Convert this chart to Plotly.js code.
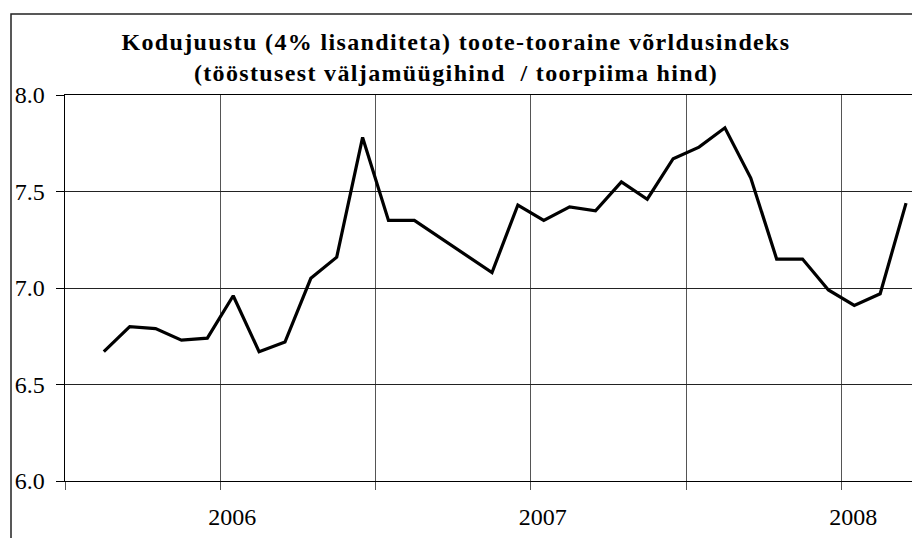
<!DOCTYPE html>
<html>
<head>
<meta charset="utf-8">
<script src="https://cdn.plot.ly/plotly-3.0.1.min.js"></script>
<style>
  html, body { margin: 0; padding: 0; background: #fff; }
  #chart { width: 912px; height: 538px; }
  .gtitle { letter-spacing: 1.35px; }
</style>
</head>
<body>
<div id="chart"></div>
<script>
// Monthly categories (first category is empty in the original chart)
const categories = [
  '2005-07','2005-08','2005-09','2005-10','2005-11','2005-12',
  '2006-01','2006-02','2006-03','2006-04','2006-05','2006-06',
  '2006-07','2006-08','2006-09','2006-10','2006-11','2006-12',
  '2007-01','2007-02','2007-03','2007-04','2007-05','2007-06',
  '2007-07','2007-08','2007-09','2007-10','2007-11','2007-12',
  '2008-01','2008-02','2008-03'
];
// Index values
const values = [
  null, 6.67, 6.80, 6.79, 6.73, 6.74,
  6.96, 6.67, 6.72, 7.05, 7.16, 7.78,
  7.35, 7.35, 7.26, 7.17, 7.08, 7.43,
  7.35, 7.42, 7.40, 7.55, 7.46, 7.67,
  7.73, 7.83, 7.57, 7.15, 7.15, 6.99,
  6.91, 6.97, 7.44
];
// Half-year boundaries (ticks/gridlines) and their year labels
const tickCategories = ['2005-07','2006-01','2006-07','2007-01','2007-07','2008-01'];
const tickLabels = ['', '2006', '', '2007', '', '2008'];
const yTicks = [6.0, 6.5, 7.0, 7.5, 8.0];

const titleText = 'Kodujuustu (4% lisanditeta) toote-tooraine võrldusindeks<br>(tööstusest väljamüügihind &nbsp;/ toorpiima hind)';

const xIdx = categories.map((c, i) => i);
const tickPos = tickCategories.map(c => categories.indexOf(c) - 0.5);

const trace = {
  x: xIdx,
  y: values,
  type: 'scatter',
  mode: 'lines',
  line: { color: '#000', width: 3.2 },
  connectgaps: false,
  hoverinfo: 'skip',
  showlegend: false
};

const serif = 'Liberation Serif, Times New Roman, serif';

const layout = {
  width: 912,
  height: 538,
  margin: { l: 65, r: 0, t: 95, b: 57 },
  paper_bgcolor: '#fff',
  plot_bgcolor: '#fff',
  font: { family: serif, color: '#000', size: 24 },
  title: {
    text: titleText,
    font: { family: serif, size: 24, color: '#000', weight: 'bold' },
    x: 0.5, xref: 'container', xanchor: 'center',
    y: 1 - 50 / 538, yref: 'container', yanchor: 'middle'
  },
  xaxis: {
    type: 'linear',
    range: [-0.5, 32.23],
    tickmode: 'array',
    tickvals: tickPos,
    ticktext: tickLabels,
    ticks: 'outside',
    ticklen: 8,
    tickcolor: '#555',
    tickwidth: 1,
    ticklabelshift: 12,
    ticklabelstandoff: 6,
    tickfont: { family: serif, size: 24, color: '#000' },
    showgrid: true,
    gridcolor: '#555',
    gridwidth: 1,
    showline: true,
    linecolor: '#000',
    linewidth: 1,
    mirror: true,
    zeroline: false,
    fixedrange: true
  },
  yaxis: {
    range: [6, 8],
    tickmode: 'array',
    tickvals: yTicks,
    tickformat: '.1f',
    ticks: 'outside',
    ticklen: 8,
    tickcolor: '#000',
    tickwidth: 1,
    ticklabelstandoff: 6,
    tickfont: { family: serif, size: 24, color: '#000' },
    showgrid: true,
    gridcolor: '#222',
    gridwidth: 1,
    showline: true,
    linecolor: '#000',
    linewidth: 1.5,
    zeroline: false,
    fixedrange: true
  },
  shapes: [{
    type: 'rect',
    xref: 'paper', yref: 'paper',
    x0: (11 - 65) / 847, x1: 1.2,
    y0: -0.3, y1: (481 - 14) / 386,
    line: { color: '#222', width: 1.5 },
    fillcolor: 'rgba(0,0,0,0)',
    layer: 'below'
  }]
};

Plotly.newPlot('chart', [trace], layout, { displayModeBar: false, staticPlot: true });
</script>
</body>
</html>
